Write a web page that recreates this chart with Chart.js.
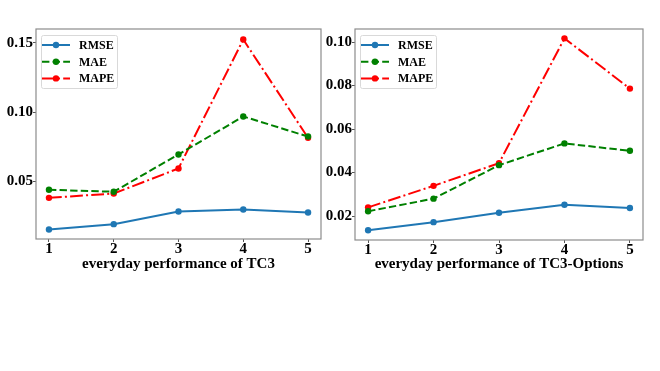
<!DOCTYPE html>
<html>
<head>
<meta charset="utf-8">
<script src="https://cdn.jsdelivr.net/npm/chart.js@4.4.1/dist/chart.umd.min.js"></script>
<style>
  html, body { margin: 0; padding: 0; background: #fff; }
  body { width: 660px; height: 371px; position: relative; overflow: hidden; }
  .box { position: absolute; top: 0; height: 280px; }
  #left { left: 0; width: 330px; }
  #right { left: 320px; width: 340px; }
</style>
</head>
<body>
<div class="box" id="left"><canvas id="c1"></canvas></div>
<div class="box" id="right"><canvas id="c2"></canvas></div>
<script>
const days = [1, 2, 3, 4, 5];
const seriesNames = ['RMSE', 'MAE', 'MAPE'];

// TC3
const tc3Rmse = [0.0153, 0.0192, 0.0283, 0.0298, 0.0276];
const tc3Mae  = [0.0440, 0.0426, 0.0695, 0.0969, 0.0824];
const tc3Mape = [0.0382, 0.0413, 0.0594, 0.1524, 0.0815];
const tc3Ticks = [0.05, 0.10, 0.15];

// TC3-Options
const optRmse = [0.0135, 0.0172, 0.0215, 0.0252, 0.0237];
const optMae  = [0.0222, 0.0280, 0.0434, 0.0534, 0.0500];
const optMape = [0.0240, 0.0339, 0.0443, 0.1017, 0.0786];
const optTicks = [0.02, 0.04, 0.06, 0.08, 0.10];

const colors = ['#1f77b4', '#008000', '#ff0000'];
const dashes = [[], [7.4, 3.2], [12.8, 3.2, 2, 3.2]];
const FONT = '"Liberation Serif", "Times New Roman", serif';

function makeSets(vals) {
  return vals.map((v, i) => ({
    label: seriesNames[i],
    data: days.map((d, j) => ({ x: d, y: v[j] })),
    borderColor: colors[i],
    backgroundColor: colors[i],
    borderWidth: 2,
    borderDash: dashes[i],
    pointRadius: 3.2,
    pointHoverRadius: 3.2,
    pointBorderWidth: 0,
    tension: 0,
  }));
}

// frame + legend drawn matplotlib style
const framePlugin = {
  id: 'frame',
  afterDraw(chart) {
    const { ctx, chartArea: a } = chart;
    ctx.save();
    ctx.strokeStyle = '#8c8c8c';
    ctx.lineWidth = 1.2;
    ctx.setLineDash([]);
    ctx.strokeRect(a.left, a.top, a.right - a.left, a.bottom - a.top);

    // legend
    const lx = a.left + 5, ly = a.top + 6, lw = 76, lh = 53;
    ctx.fillStyle = 'rgba(255,255,255,0.85)';
    ctx.strokeStyle = '#d9d9d9';
    ctx.lineWidth = 1;
    ctx.beginPath();
    ctx.roundRect(lx + 0.5, ly + 0.5, lw, lh, 2);
    ctx.fill();
    ctx.stroke();
    chart.data.datasets.forEach((ds, i) => {
      const y = ly + 10 + i * 16.7;
      ctx.strokeStyle = ds.borderColor;
      ctx.lineWidth = 2;
      ctx.setLineDash(ds.borderDash);
      ctx.beginPath();
      ctx.moveTo(lx + 1, y);
      ctx.lineTo(lx + 29, y);
      ctx.stroke();
      ctx.setLineDash([]);
      ctx.fillStyle = ds.borderColor;
      ctx.beginPath();
      ctx.arc(lx + 15, y, 3.2, 0, Math.PI * 2);
      ctx.fill();
      ctx.fillStyle = '#000';
      ctx.font = 'bold 12px ' + FONT;
      ctx.textBaseline = 'middle';
      ctx.fillText(ds.label, lx + 38, y + 1);
    });
    ctx.restore();
  }
};

function makeChart(id, vals, ticks, title, yMin, yMax, pad, yW, xH) {
  return new Chart(document.getElementById(id), {
    type: 'line',
    data: { datasets: makeSets(vals) },
    options: {
      responsive: true,
      maintainAspectRatio: false,
      animation: false,
      layout: { padding: pad },
      plugins: { legend: { display: false }, tooltip: { enabled: false } },
      scales: {
        x: {
          type: 'linear',
          min: 0.8, max: 5.2,
          afterBuildTicks: s => { s.ticks = days.map(v => ({ value: v })); },
          afterFit: s => { s.height = xH; },
          grid: { display: true, drawOnChartArea: false, tickLength: 3, color: '#555' },
          border: { display: false },
          ticks: { color: '#000', padding: -2, font: { family: FONT, size: 15, weight: 'bold' } },
          title: { display: true, text: title, color: '#000', padding: { top: 0, bottom: 7 },
                   font: { family: FONT, size: 15, weight: 'bold' } }
        },
        y: {
          min: yMin, max: yMax,
          afterBuildTicks: s => { s.ticks = ticks.map(v => ({ value: v })); },
          afterFit: s => { s.width = yW; },
          grid: { display: true, drawOnChartArea: false, tickLength: 3, color: '#555' },
          border: { display: false },
          ticks: { color: '#000', padding: 0, font: { family: FONT, size: 15, weight: 'bold' },
                   callback: v => v.toFixed(2) }
        }
      }
    },
    plugins: [framePlugin]
  });
}

makeChart('c1', [tc3Rmse, tc3Mae, tc3Mape], tc3Ticks, 'everyday performance of TC3',
  0.0085, 0.1600, { top: 29, right: 9, left: 0, bottom: 0 }, 36, 41);
makeChart('c2', [optRmse, optMae, optMape], optTicks, 'everyday performance of TC3-Options',
  0.0090, 0.1060, { top: 29, right: 17, left: 0, bottom: 0 }, 35, 40);
</script>
</body>
</html>
